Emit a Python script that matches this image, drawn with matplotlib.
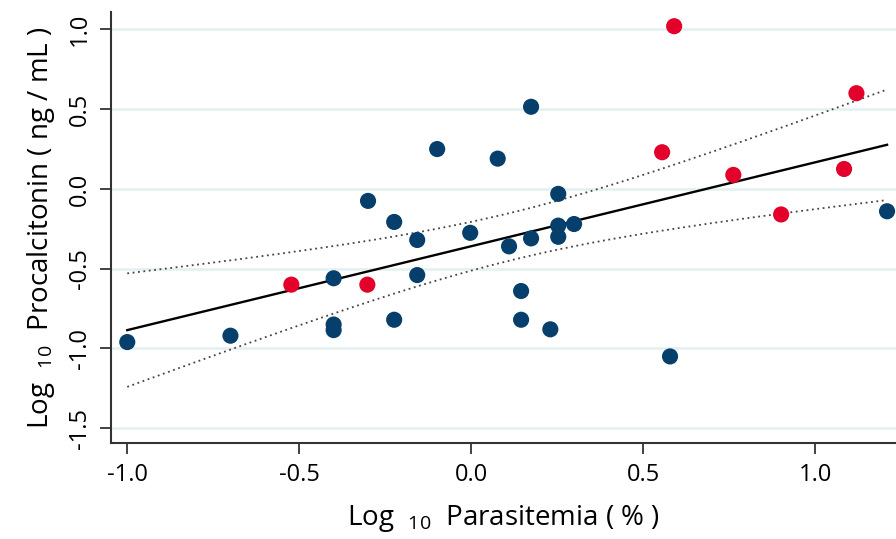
import numpy as np
import matplotlib
matplotlib.use("Agg")
import matplotlib.pyplot as plt

plt.rcParams['font.family'] = ['Open Sans', 'DejaVu Sans']
plt.rcParams['mathtext.fontset'] = 'custom'
plt.rcParams['mathtext.rm'] = 'Open Sans'

# non-severe (blue)
x_blue = [-1.00, -0.70, -0.40, -0.40, -0.40, -0.30, -0.224, -0.224, -0.157, -0.157,
          -0.099, -0.003, 0.077, 0.11, 0.145, 0.145, 0.174, 0.174, 0.23, 0.253,
          0.253, 0.253, 0.299, 0.578, 1.209]
y_blue = [-0.96, -0.92, -0.56, -0.85, -0.885, -0.075, -0.207, -0.82, -0.32, -0.54,
          0.25, -0.275, 0.19, -0.36, -0.64, -0.82, 0.515, -0.31, -0.88, -0.031,
          -0.23, -0.30, -0.22, -1.05, -0.14]
# severe (red)
x_red = [-0.523, -0.302, 0.555, 0.590, 0.762, 0.901, 1.084, 1.12]
y_red = [-0.60, -0.60, 0.23, 1.02, 0.088, -0.16, 0.125, 0.60]

xticks = [-1.0, -0.5, 0.0, 0.5, 1.0]
yticks = [-1.5, -1.0, -0.5, 0.0, 0.5, 1.0]

# linear fit + 95% CI of the mean, from all points
x_all = np.array(x_blue + x_red)
y_all = np.array(y_blue + y_red)
n = len(x_all)
b, a = np.polyfit(x_all, y_all, 1)
resid = y_all - (a + b * x_all)
s = np.sqrt(np.sum(resid**2) / (n - 2))
sxx = np.sum((x_all - x_all.mean())**2)
xf = np.linspace(x_all.min(), x_all.max(), 200)
yf = a + b * xf
se = s * np.sqrt(1 / n + (xf - x_all.mean())**2 / sxx)
t = 2.04

fig = plt.figure(figsize=(8.96, 5.39), dpi=100)
ax = fig.add_axes([0.124, 0.178, 0.876, 0.8])

for yv in yticks:
    ax.axhline(yv, color='#e3f0f1', lw=1.8, zorder=0)

ax.plot(xf, yf, color='black', lw=1.7, zorder=2)
ax.plot(xf, yf + t * se, color='#444444', lw=1.3, ls=(0, (1, 2)), zorder=2)
ax.plot(xf, yf - t * se, color='#444444', lw=1.3, ls=(0, (1, 2)), zorder=2)

ax.scatter(x_blue, y_blue, s=135, color='#063f6b', edgecolors='none', zorder=3)
ax.scatter(x_red, y_red, s=135, color='#e3002b', edgecolors='none', zorder=3)

ax.set_xlim(-1.047, 1.235)
ax.set_ylim(-1.593, 1.11)
ax.set_xticks(xticks)
ax.set_yticks(yticks)
ax.set_xticklabels([f'{v:.1f}' for v in xticks])
ax.set_yticklabels([f'{v:.1f}' for v in yticks], rotation=90, va='center')
ax.tick_params(labelsize=17, length=8, width=1.3, color='#333333', pad=6)

for side in ['top', 'right']:
    ax.spines[side].set_visible(False)
for side in ['left', 'bottom']:
    ax.spines[side].set_linewidth(1.5)
    ax.spines[side].set_color('#333333')

ax.set_xlabel(r'Log  $_{\mathrm{10}}$  Parasitemia ( % )', fontsize=20, labelpad=12)
ax.set_ylabel(r'Log  $_{\mathrm{10}}$  Procalcitonin ( ng / mL )', fontsize=20, labelpad=8)

fig.savefig('out.png', dpi=100)
